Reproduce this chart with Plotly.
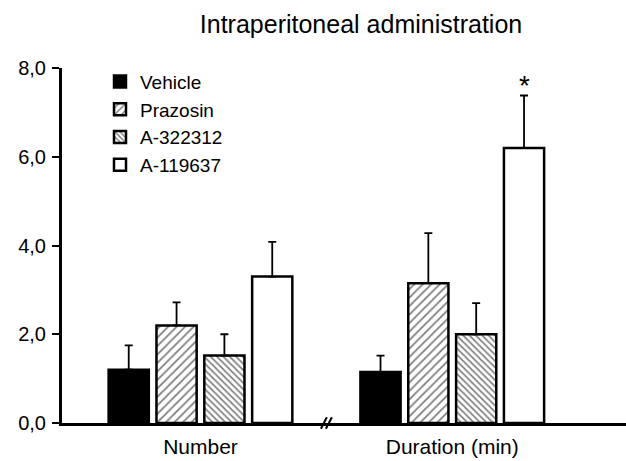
import plotly.graph_objects as go

categories = ["Number", "Duration (min)"]
series_names = ["Vehicle", "Prazosin", "A-322312", "A-119637"]
means = {
    "Vehicle": [1.2, 1.15],
    "Prazosin": [2.2, 3.15],
    "A-322312": [1.52, 2.0],
    "A-119637": [3.3, 6.2],
}
err_top = {
    "Vehicle": [1.75, 1.52],
    "Prazosin": [2.72, 4.28],
    "A-322312": [2.0, 2.7],
    "A-119637": [4.08, 7.38],
}
y_ticks = [0, 2, 4, 6, 8]
title_text = "Intraperitoneal administration"
star_series = "A-119637"
star_category = 1

styles = {
    "Vehicle": dict(color="black", pattern=dict(shape="")),
    "Prazosin": dict(color="white", pattern=dict(shape="/", fgcolor="black", bgcolor="white", size=6, solidity=0.3)),
    "A-322312": dict(color="white", pattern=dict(shape="\\", fgcolor="black", bgcolor="white", size=4.5, solidity=0.38)),
    "A-119637": dict(color="white", pattern=dict(shape="")),
}

FONT = "Liberation Sans, Arial, sans-serif"
bargap = 0.24
bargroupgap = 0.16

fig = go.Figure()
for i, name in enumerate(series_names):
    m = means[name]
    up = [t - v for t, v in zip(err_top[name], m)]
    st = styles[name]
    fig.add_trace(go.Bar(
        name=name, x=categories, y=m,
        marker=dict(color=st["color"], pattern=st["pattern"],
                    line=dict(color="black", width=2.5)),
        error_y=dict(type="data", array=up, arrayminus=[0] * len(m), symmetric=False,
                     color="black", thickness=1.8, width=4),
    ))

# star annotation position over the grouped bar
n = len(series_names)
group_w = 1 - bargap
slot = group_w / n
idx = series_names.index(star_series)
x_off = -group_w / 2 + slot * (idx + 0.5)
fig.add_annotation(x=star_category + x_off, y=err_top[star_series][star_category],
                   xref="x", yref="y", text="*", showarrow=False, yshift=10,
                   font=dict(size=28, color="black", family=FONT))

# axis break marks
for dx in (-2.5, 2.5):
    fig.add_shape(type="line", xref="x", yref="paper",
                  x0=0.5 + dx / 252 - 3 / 252, x1=0.5 + dx / 252 + 3 / 252,
                  y0=-0.016, y1=0.016, line=dict(color="black", width=2))

fig.update_layout(
    width=626, height=461,
    margin=dict(l=62, r=0, t=68, b=38),
    paper_bgcolor="white", plot_bgcolor="white",
    barmode="group", bargap=bargap, bargroupgap=bargroupgap,
    separators=",.",
    title=dict(text=title_text, x=361 / 626, xanchor="center", y=1 - 24 / 461, yanchor="middle",
               font=dict(size=25, color="black", family=FONT)),
    font=dict(family=FONT, color="black"),
    showlegend=True,
    legend=dict(x=(100 - 62) / 564, y=1.015, xanchor="left", yanchor="top",
                bgcolor="rgba(0,0,0,0)", font=dict(size=19, family=FONT, color="black"),
                tracegroupgap=0, itemwidth=30),
    xaxis=dict(range=[-0.55, 1.69], showgrid=False, zeroline=False, showline=True,
               linecolor="black", linewidth=3, ticks="", tickfont=dict(size=21, family=FONT),
               ticklabelstandoff=3, automargin=False, fixedrange=True),
    yaxis=dict(range=[0, 8], tickvals=y_ticks, tickformat=".1f", showgrid=False, zeroline=False,
               showline=True, linecolor="black", linewidth=3, ticks="outside", ticklen=7,
               tickwidth=2, tickcolor="black", tickfont=dict(size=20, family=FONT),
               ticklabelstandoff=2, automargin=False),
)

fig.write_html("out.html")
